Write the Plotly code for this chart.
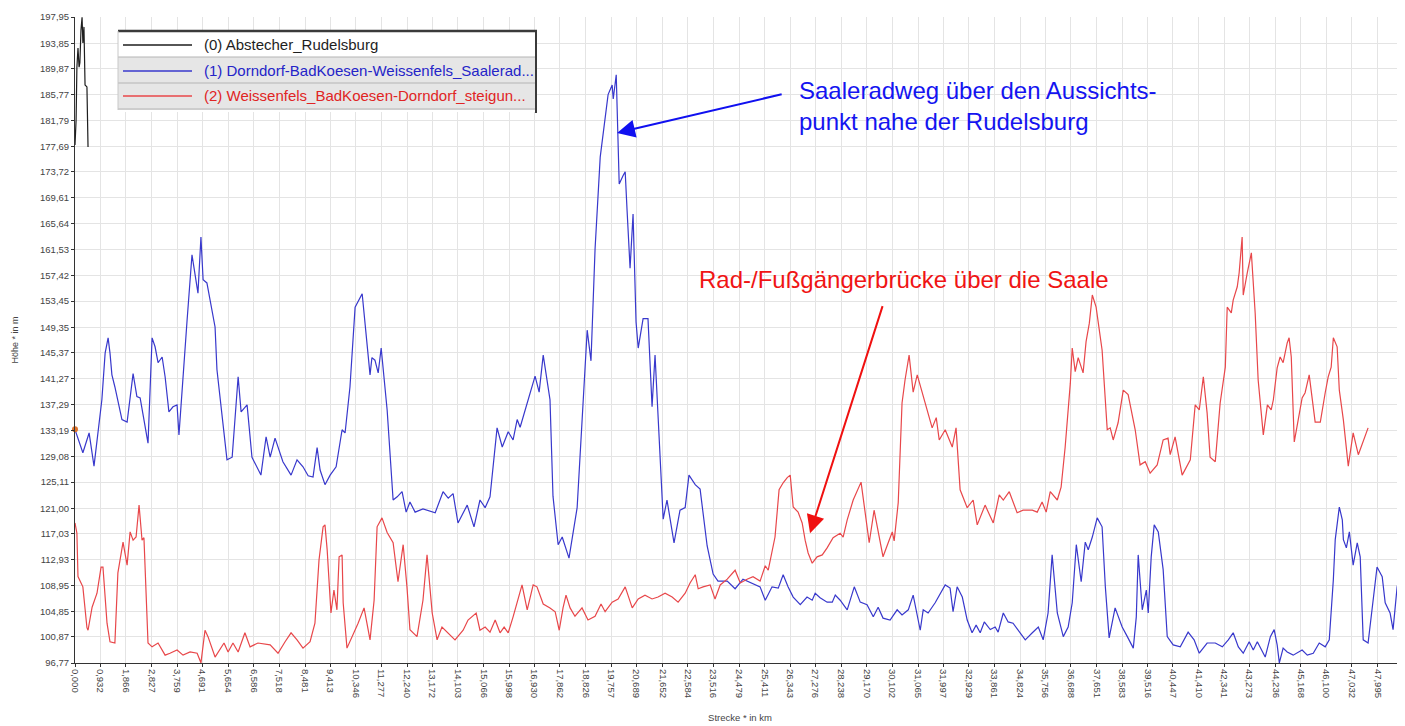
import plotly.graph_objects as go

# ---------------- data ----------------
X_TICK_LABELS = ["0,000", "0,932", "1,866", "2,827", "3,759", "4,691", "5,654", "6,586", "7,518",
                 "8,481", "9,413", "10,346", "11,277", "12,240", "13,172", "14,103", "15,066",
                 "15,998", "16,930", "17,862", "18,826", "19,757", "20,689", "21,652", "22,584",
                 "23,516", "24,479", "25,411", "26,343", "27,276", "28,238", "29,170", "30,102",
                 "31,065", "31,997", "32,929", "33,861", "34,824", "35,756", "36,688", "37,651",
                 "38,583", "39,516", "40,447", "41,410", "42,341", "43,273", "44,236", "45,168",
                 "46,100", "47,032", "47,995", "48,927"]
Y_TICK_LABELS = ["96,77", "100,87", "104,85", "108,95", "112,93", "117,03", "121,00", "125,11",
                 "129,08", "133,19", "137,29", "141,27", "145,37", "149,35", "153,45", "157,42",
                 "161,53", "165,64", "169,61", "173,72", "177,69", "181,79", "185,77", "189,87",
                 "193,85", "197,95"]

SERIES_NAMES = ["(0) Abstecher_Rudelsburg",
                "(1) Dorndorf-BadKoesen-Weissenfels_Saalerad...",
                "(2) Weissenfels_BadKoesen-Dorndorf_steigun..."]
SERIES_COLORS = ["#1e1e1e", "#3838cc", "#e8474a"]

# (km, m)
PROFILE_0 = [(0.00, 177.9), (0.04, 181.8), (0.07, 190.1), (0.11, 193.1), (0.15, 190.1), (0.18, 190.8),
             (0.22, 195.9), (0.26, 197.9), (0.29, 193.9), (0.33, 196.4), (0.37, 187.3), (0.44, 187.0),
             (0.48, 177.6)]

PROFILE_1 = [(0.00,133.3),(0.29,129.7),(0.52,132.8),(0.70,127.6),(0.99,138.0),(1.03,140.0),(1.11,145.3),(1.22,147.7),
(1.29,145.3),(1.36,141.9),(1.47,140.0),(1.73,134.9),(1.92,134.5),(2.14,142.1),(2.28,138.5),(2.40,138.3),(2.69,131.2),
(2.84,147.7),(2.95,146.3),(3.06,143.8),(3.21,144.7),(3.32,141.6),(3.46,136.1),(3.61,136.9),(3.76,137.2),(3.83,132.5),
(3.98,142.2),(4.13,150.5),(4.31,160.7),(4.53,154.7),(4.64,163.5),(4.72,156.8),(4.86,156.3),(5.05,151.6),(5.16,149.4),
(5.23,142.7),(5.60,128.6),(5.79,129.0),(6.01,141.6),(6.12,136.1),(6.34,137.2),(6.52,129.0),(6.85,126.2),(7.04,132.2),
(7.19,129.0),(7.37,132.0),(7.66,128.3),(7.96,126.2),(8.18,128.6),(8.40,127.5),(8.59,126.1),(8.77,125.9),(8.92,130.5),
(9.03,127.0),(9.21,124.7),(9.40,126.2),(9.62,127.5),(9.84,133.3),(9.95,132.8),(10.13,140.0),(10.32,152.5),(10.58,154.6),
(10.76,147.1),(10.87,141.9),(10.94,144.6),(11.05,144.2),(11.17,142.2),(11.28,146.1),(11.50,136.4),(11.72,122.3),
(11.87,122.8),(12.05,123.6),(12.20,120.4),(12.34,122.0),(12.53,120.4),(12.82,120.9),(13.27,120.3),(13.56,123.6),
(13.75,122.6),(13.93,123.3),(14.11,118.7),(14.45,121.5),(14.70,118.1),(14.92,122.3),(15.11,121.1),(15.29,122.8),
(15.55,133.6),(15.74,130.6),(15.96,133.0),(16.14,131.7),(16.29,134.9),(16.40,133.7),(16.95,141.7),(17.10,139.2),
(17.25,145.0),(17.50,138.0),(17.61,122.9),(17.80,115.3),(17.95,116.5),(18.20,113.2),(18.50,121.1),(18.72,136.9),
(18.87,148.9),(19.01,144.1),(19.16,161.6),(19.35,176.0),(19.46,180.1),(19.64,185.8),(19.79,187.3),(19.83,185.1),
(19.94,188.9),(20.01,179.8),(20.05,171.8),(20.19,173.1),(20.27,173.7),(20.34,167.6),(20.45,158.6),(20.56,167.1),
(20.67,150.2),(20.75,146.1),(20.93,150.7),(21.11,150.7),(21.26,136.9),(21.37,145.0),(21.56,127.8),(21.67,119.3),
(21.81,122.3),(22.07,115.6),(22.29,120.7),(22.48,121.1),(22.62,126.2),(22.85,124.7),(23.03,124.0),(23.29,115.1),
(23.51,110.7),(23.69,109.6),(24.03,109.6),(24.32,108.4),(24.61,109.9),(24.95,109.3),(25.24,108.7),(25.43,106.6),
(25.68,108.7),(25.91,108.5),(26.09,110.6),(26.27,108.7),(26.46,107.1),(26.72,105.9),(26.97,107.1),(27.16,106.6),
(27.27,107.7),(27.45,107.0),(27.71,106.3),(27.90,106.3),(28.01,107.4),(28.19,106.6),(28.45,105.1),(28.71,108.7),
(28.93,106.3),(29.18,105.9),(29.41,104.0),(29.59,105.5),(29.77,103.8),(30.03,103.5),(30.29,105.1),(30.47,104.3),
(30.70,105.1),(30.88,107.4),(31.14,101.9),(31.25,105.1),(31.43,104.6),(31.69,106.2),(31.88,107.7),(32.06,109.0),
(32.24,108.5),(32.35,104.8),(32.50,108.7),(32.69,107.1),(32.87,103.5),(33.05,101.5),(33.20,102.7),(33.35,101.5),
(33.50,103.2),(33.72,102.0),(33.90,102.4),(34.01,101.6),(34.20,104.6),(34.38,103.2),(34.56,103.0),(34.82,101.5),
(35.01,100.4),(35.27,101.5),(35.49,102.4),(35.67,100.4),(35.85,104.6),(36.00,113.7),(36.19,104.6),(36.41,100.9),
(36.59,102.4),(36.74,106.2),(36.89,115.3),(37.07,109.5),(37.22,115.7),(37.33,114.5),(37.48,116.5),(37.66,119.5),
(37.84,118.1),(37.96,108.7),(38.10,100.7),(38.32,105.4),(38.58,102.4),(38.77,100.9),(38.99,99.1),(39.10,104.0),
(39.17,113.7),(39.32,105.1),(39.47,108.2),(39.54,104.6),(39.65,113.4),(39.76,118.4),(39.91,117.3),(40.09,111.4),
(40.24,100.9),(40.46,99.6),(40.72,99.3),(41.01,101.6),(41.23,100.4),(41.42,98.3),(41.71,99.9),(42.01,99.9),
(42.27,99.3),(42.49,100.4),(42.67,101.5),(42.86,99.3),(43.04,98.3),(43.26,100.1),(43.41,98.8),(43.56,100.1),
(43.67,99.1),(43.85,97.7),(44.04,100.9),(44.18,102.0),(44.29,99.6),(44.37,96.8),(44.51,99.1),(44.66,98.5),
(44.88,98.0),(45.21,98.8),(45.40,98.0),(45.62,98.3),(45.84,99.9),(46.06,99.3),(46.21,100.4),(46.36,109.8),
(46.43,116.1),(46.58,121.2),(46.69,119.2),(46.73,116.1),(46.84,114.8),(46.95,117.3),(47.09,112.1),(47.24,115.6),
(47.35,113.4),(47.46,100.4),(47.64,99.9),(47.79,105.6),(47.97,111.8),(48.16,110.3),(48.27,106.2),(48.45,104.6),
(48.56,102.0),(48.71,108.7),(48.90,111.8),(49.01,118.7)]

PROFILE_2 = [(0.00,118.7),(0.07,117.1),(0.11,110.3),(0.29,108.7),(0.44,102.3),(0.48,101.9),(0.63,105.5),(0.81,107.7),
(0.96,111.8),(1.03,111.8),(1.18,103.0),(1.29,100.1),(1.47,99.9),(1.58,110.9),(1.77,115.7),(1.92,112.1),(2.03,117.3),
(2.14,116.0),(2.25,116.5),(2.36,121.5),(2.47,116.0),(2.54,116.4),(2.69,99.9),(2.84,99.3),(3.06,99.9),(3.32,98.0),
(3.50,98.3),(3.76,98.8),(3.98,98.0),(4.24,98.5),(4.50,98.3),(4.64,96.8),(4.79,101.9),(4.90,100.9),(5.16,97.7),
(5.34,98.8),(5.49,99.9),(5.64,98.5),(5.82,99.9),(6.01,98.5),(6.26,101.5),(6.45,99.3),(6.74,99.9),(7.19,99.6),
(7.48,98.3),(7.74,100.1),(7.96,101.5),(8.18,100.4),(8.40,99.1),(8.66,100.1),(8.84,103.0),(8.99,112.9),(9.14,118.1),
(9.21,118.4),(9.29,114.5),(9.43,104.6),(9.54,108.2),(9.65,105.1),(9.73,113.4),(9.84,113.7),(9.88,106.2),(10.02,99.1),
(10.24,101.1),(10.43,103.0),(10.65,105.4),(10.87,100.4),(11.02,106.6),(11.13,118.1),(11.31,119.5),(11.50,117.2),
(11.72,115.6),(11.90,109.5),(12.09,115.3),(12.23,108.7),(12.34,102.0),(12.60,100.9),(12.82,106.6),(12.97,113.7),
(13.16,104.6),(13.34,100.4),(13.52,102.4),(13.71,101.6),(14.00,100.4),(14.30,101.9),(14.48,103.5),(14.78,104.6),
(14.92,101.9),(15.11,102.4),(15.29,101.6),(15.48,103.5),(15.66,101.5),(15.81,102.4),(15.96,101.5),(16.14,104.0),
(16.47,109.0),(16.66,105.1),(16.88,109.0),(17.02,108.7),(17.25,106.0),(17.50,105.4),(17.69,104.8),(17.84,101.9),
(17.98,105.4),(18.09,107.4),(18.24,105.4),(18.42,104.1),(18.68,105.4),(18.90,103.5),(19.16,104.1),(19.38,106.0),
(19.53,104.8),(19.79,106.3),(20.01,106.8),(20.27,108.7),(20.53,105.4),(20.75,106.8),(21.00,107.4),(21.26,106.8),
(21.48,107.1),(21.74,107.7),(22.00,107.1),(22.22,106.3),(22.48,107.7),(22.66,109.3),(22.85,110.6),(22.96,108.4),
(23.14,108.7),(23.40,109.0),(23.58,106.8),(23.77,109.0),(24.03,109.9),(24.32,111.3),(24.51,109.3),(24.76,109.9),
(24.98,110.3),(25.24,109.6),(25.43,112.0),(25.54,111.3),(25.79,116.5),(25.94,123.9),(26.09,125.0),(26.24,125.8),
(26.35,126.2),(26.46,121.2),(26.64,120.4),(26.79,118.7),(26.90,116.0),(27.01,114.0),(27.16,112.4),(27.34,113.4),
(27.53,113.7),(27.71,114.8),(27.93,116.4),(28.19,117.1),(28.30,116.5),(28.45,119.2),(28.67,122.3),(28.96,125.1),
(29.11,120.7),(29.26,115.6),(29.44,120.7),(29.59,117.6),(29.77,113.4),(29.96,115.6),(30.11,117.3),(30.18,115.9),
(30.33,121.9),(30.47,137.5),(30.58,141.1),(30.73,145.0),(30.88,139.2),(31.03,141.9),(31.25,138.4),(31.58,133.6),
(31.73,135.2),(31.84,131.7),(32.06,133.3),(32.32,130.6),(32.46,133.6),(32.61,123.9),(32.87,121.1),(33.09,122.3),
(33.24,118.4),(33.53,121.5),(33.83,118.7),(34.05,123.1),(34.20,122.3),(34.42,123.6),(34.71,120.3),(34.93,120.7),
(35.27,120.7),(35.45,120.4),(35.63,122.0),(35.78,120.4),(35.93,123.6),(36.19,122.3),(36.33,124.3),(36.48,130.6),
(36.67,140.6),(36.74,146.1),(36.85,142.4),(36.96,144.6),(37.14,142.2),(37.25,147.1),(37.37,150.0),(37.48,154.4),
(37.62,152.5),(37.84,145.8),(38.03,133.3),(38.14,133.6),(38.25,131.7),(38.43,134.4),(38.62,139.5),(38.80,138.8),
(39.06,133.3),(39.24,127.8),(39.43,128.3),(39.61,126.5),(39.87,127.8),(40.09,131.7),(40.27,132.0),(40.35,129.4),
(40.53,132.2),(40.79,126.2),(41.09,128.6),(41.27,137.2),(41.42,136.4),(41.57,141.6),(41.71,135.9),(41.82,129.0),
(42.01,128.3),(42.19,137.5),(42.38,143.1),(42.45,152.5),(42.60,151.6),(42.67,153.6),(42.82,155.7),(42.89,157.9),
(43.00,163.5),(43.04,154.4),(43.19,157.9),(43.34,161.0),(43.48,151.6),(43.59,141.1),(43.78,132.5),(43.93,137.2),
(44.07,136.4),(44.15,138.0),(44.29,143.0),(44.40,144.7),(44.51,143.8),(44.66,146.9),(44.73,147.7),(44.81,144.7),
(44.92,131.4),(45.07,135.3),(45.21,138.3),(45.32,139.1),(45.47,141.9),(45.69,134.5),(45.88,134.5),(46.06,139.1),
(46.17,141.6),(46.28,143.1),(46.36,147.7),(46.50,146.3),(46.58,139.5),(46.73,134.8),(46.91,127.6),(47.09,132.8),
(47.28,129.4),(47.64,133.6)]

START_POINT = (0.0, 133.4)

ANNOT_BLUE = "Saaleradweg über den Aussichts-<br>punkt nahe der Rudelsburg"
ANNOT_RED = "Rad-/Fußgängerbrücke über die Saale"
X_TITLE = "Strecke * in km"
Y_TITLE = "Höhe * in m"

# ---------------- figure ----------------
# the page body has an 8px margin; the figure is sized so the plot area lands
# at page pixels x 75..1405, y 17..663
BODY = 8
W, H = 1405 - BODY, 726 - BODY
ML, MR, MT, MB = 75 - BODY, 0, 17 - BODY, 63
PW, PH = W - ML - MR, H - MT - MB
PLOT_LEFT, PLOT_BOTTOM = 75, 663


def px(xp):
    return (xp - PLOT_LEFT) / PW


def py(yp):
    return (PLOT_BOTTOM - yp) / PH


FONT = "Liberation Sans, Arial, sans-serif"

fig = go.Figure()
for prof, name, col in zip([PROFILE_0, PROFILE_1, PROFILE_2], SERIES_NAMES, SERIES_COLORS):
    xs, ys = zip(*prof)
    fig.add_trace(go.Scatter(x=list(xs), y=list(ys), mode="lines", name=name,
                             line=dict(color=col, width=1.2), showlegend=False))

fig.add_trace(go.Scatter(x=[START_POINT[0]], y=[START_POINT[1]], mode="markers",
                         marker=dict(color="#e0742c", size=6), showlegend=False, cliponaxis=False))

TICK_FONT = dict(family=FONT, size=9.5, color="#444444")
axis_common = dict(showline=True, linecolor="#333333", linewidth=1, ticks="outside", ticklen=3,
                   tickcolor="#333333", showgrid=True, gridcolor="#e4e4e4", gridwidth=1,
                   zeroline=False, tickfont=TICK_FONT)

fig.update_xaxes(range=[0, 49.0], tickmode="array",
                 tickvals=[float(t.replace(",", ".")) for t in X_TICK_LABELS],
                 ticktext=X_TICK_LABELS, tickangle=90,
                 title=dict(text=X_TITLE, font=dict(family=FONT, size=9.5, color="#444444"), standoff=17),
                 **axis_common)
fig.update_yaxes(range=[96.77, 197.95], tickmode="array",
                 tickvals=[float(t.replace(",", ".")) for t in Y_TICK_LABELS],
                 ticktext=Y_TICK_LABELS,
                 title=dict(text=Y_TITLE, font=dict(family=FONT, size=9, color="#444444"), standoff=19),
                 **axis_common)

# ---- custom legend box ----
shapes = []
LX0, LX1 = 118, 536
shapes.append(dict(type="rect", xref="paper", yref="paper", x0=px(LX0), x1=px(LX1), y0=py(112), y1=py(31),
                   fillcolor="#ffffff", line=dict(width=0), layer="above"))
shapes.append(dict(type="rect", xref="paper", yref="paper", x0=px(LX0), x1=px(LX1), y0=py(110), y1=py(57),
                   fillcolor="#e6e6e6", line=dict(width=0), layer="above"))
for yl in (57, 83, 109):
    shapes.append(dict(type="line", xref="paper", yref="paper", x0=px(LX0), x1=px(LX1), y0=py(yl), y1=py(yl),
                       line=dict(color="#b4b4b4", width=1), layer="above"))
shapes.append(dict(type="line", xref="paper", yref="paper", x0=px(LX0), x1=px(LX1 + 1), y0=py(31), y1=py(31),
                   line=dict(color="#3a3a3a", width=2.5), layer="above"))
shapes.append(dict(type="line", xref="paper", yref="paper", x0=px(LX1), x1=px(LX1), y0=py(31), y1=py(113),
                   line=dict(color="#3a3a3a", width=2), layer="above"))
shapes.append(dict(type="line", xref="paper", yref="paper", x0=px(LX0), x1=px(LX0), y0=py(31), y1=py(110),
                   line=dict(color="#c8c8c8", width=1), layer="above"))

annotations = []
row_y = [45, 71, 96]
text_colors = ["#1e1e1e", "#2424c8", "#e02424"]
for ry, name, col, tcol in zip(row_y, SERIES_NAMES, SERIES_COLORS, text_colors):
    shapes.append(dict(type="line", xref="paper", yref="paper", x0=px(123), x1=px(192), y0=py(ry), y1=py(ry),
                       line=dict(color=col, width=1.5), layer="above"))
    annotations.append(dict(xref="paper", yref="paper", x=px(202), y=py(ry), text=name, showarrow=False,
                            xanchor="left", yanchor="middle",
                            font=dict(family=FONT, size=15, color=tcol)))

# ---- callouts ----
annotations.append(dict(x=19.97, y=179.8, ax=26.09, ay=185.9, xref="x", yref="y", axref="x", ayref="y",
                        text="", showarrow=True, arrowhead=2, arrowsize=1.8, arrowwidth=2,
                        arrowcolor="#1010f0"))
annotations.append(dict(x=27.08, y=117.1, ax=29.77, ay=152.9, xref="x", yref="y", axref="x", ayref="y",
                        text="", showarrow=True, arrowhead=2, arrowsize=1.8, arrowwidth=2,
                        arrowcolor="#f01010"))
annotations.append(dict(x=26.60, y=184.0, xref="x", yref="y", text=ANNOT_BLUE, showarrow=False,
                        xanchor="left", yanchor="middle", align="left",
                        font=dict(family=FONT, size=24, color="#1414f0")))
annotations.append(dict(x=22.92, y=156.8, xref="x", yref="y", text=ANNOT_RED, showarrow=False,
                        xanchor="left", yanchor="middle", align="left",
                        font=dict(family=FONT, size=24, color="#f01414")))

fig.update_layout(width=W, height=H, margin=dict(l=ML, r=MR, t=MT, b=MB, autoexpand=False),
                  paper_bgcolor="#ffffff", plot_bgcolor="#ffffff", showlegend=False,
                  shapes=shapes, annotations=annotations, font=dict(family=FONT))

fig.write_html("out.html")
